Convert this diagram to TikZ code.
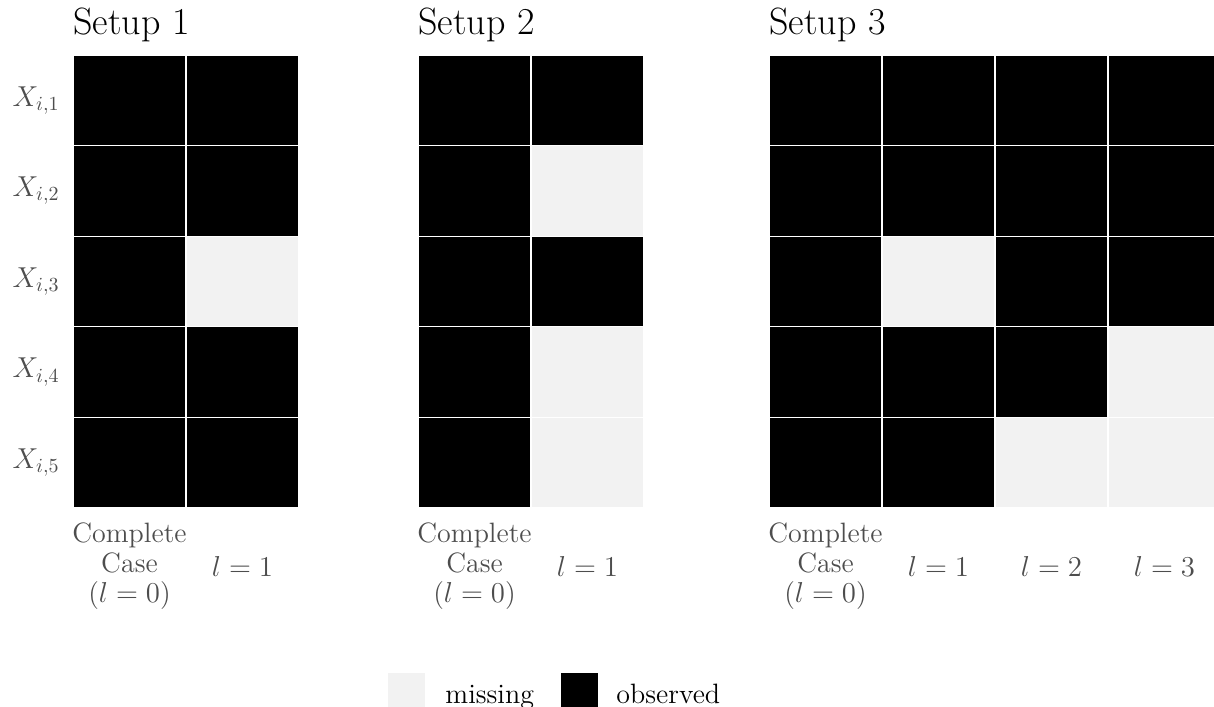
\documentclass[tikz,border=0pt]{standalone}
\usepackage{fontspec}
\begin{document}
\begin{tikzpicture}[x=0.5pt,y=-0.5pt,
  cellB/.style={draw=white,line width=0.6pt,fill=black,minimum width=56.5pt,minimum height=45.3pt,inner sep=0pt,outer sep=0pt},
  cellW/.style={cellB,fill=miss},
  ttl/.style={anchor=base west,inner sep=0pt,font=\fontsize{19}{22}\selectfont},
  rowlab/.style={anchor=east,inner sep=0pt,text=labgray,font=\fontsize{14}{15}\selectfont},
  collab/.style={align=center,inner sep=0pt,text=labgray,font=\fontsize{14}{15}\selectfont},
  leg/.style={anchor=base west,inner sep=0pt,font=\fontsize{14}{15}\selectfont},
  legbox/.style={minimum width=18.5pt,minimum height=18.5pt,inner sep=0pt,outer sep=0pt,anchor=north west}
]
\definecolor{miss}{HTML}{F2F2F2}
\definecolor{labgray}{HTML}{4D4D4D}
\useasboundingbox (0,0) rectangle (1214,706);
\begin{scope}
\clip (0,0) rectangle (1214,706);
% titles
\node[ttl] (t1) at (73,35) {Setup 1};
\node[ttl] (t2) at (418,35) {Setup 2};
\node[ttl] (t3) at (769,35) {Setup 3};
% row labels
\foreach \r in {1,...,5}{
  \node[rowlab] (rl\r) at (60,{55+90.6*(\r-0.5)}) {$X_{i,\r}$};
}
% Setup 1
\foreach \r/\a/\b in {1/B/B,2/B/B,3/B/W,4/B/B,5/B/B}{
  \node[cell\a] (sa\r c1) at (129.5,{55+90.6*(\r-0.5)}) {};
  \node[cell\b] (sa\r c2) at (242.5,{55+90.6*(\r-0.5)}) {};
}
% Setup 2
\foreach \r/\a/\b in {1/B/B,2/B/W,3/B/B,4/B/W,5/B/W}{
  \node[cell\a] (sb\r c1) at (474.5,{55+90.6*(\r-0.5)}) {};
  \node[cell\b] (sb\r c2) at (587.5,{55+90.6*(\r-0.5)}) {};
}
% Setup 3
\foreach \r/\a/\b/\c/\d in {1/B/B/B/B,2/B/B/B/B,3/B/W/B/B,4/B/B/B/W,5/B/B/W/W}{
  \node[cell\a] (sc\r c1) at (825.5,{55+90.6*(\r-0.5)}) {};
  \node[cell\b] (sc\r c2) at (938.5,{55+90.6*(\r-0.5)}) {};
  \node[cell\c] (sc\r c3) at (1051.5,{55+90.6*(\r-0.5)}) {};
  \node[cell\d] (sc\r c4) at (1164.5,{55+90.6*(\r-0.5)}) {};
}
% column labels
\node[collab] (la0) at (129.5,566) {Complete\\Case\\($l=0$)};
\node[collab] (la1) at (242.5,566) {$l=1$};
\node[collab] (lb0) at (474.5,566) {Complete\\Case\\($l=0$)};
\node[collab] (lb1) at (587.5,566) {$l=1$};
\node[collab] (lc0) at (825.5,566) {Complete\\Case\\($l=0$)};
\node[collab] (lc1) at (938.5,566) {$l=1$};
\node[collab] (lc2) at (1051.5,566) {$l=2$};
\node[collab] (lc3) at (1164.5,566) {$l=3$};
% legend
\node[legbox,fill=miss] (lgm) at (388,673) {};
\node[leg] (lgmt) at (445,703) {missing};
\node[legbox,fill=black] (lgo) at (561,673) {};
\node[leg] (lgot) at (616,703) {observed};
\end{scope}
\end{tikzpicture}
\end{document}
